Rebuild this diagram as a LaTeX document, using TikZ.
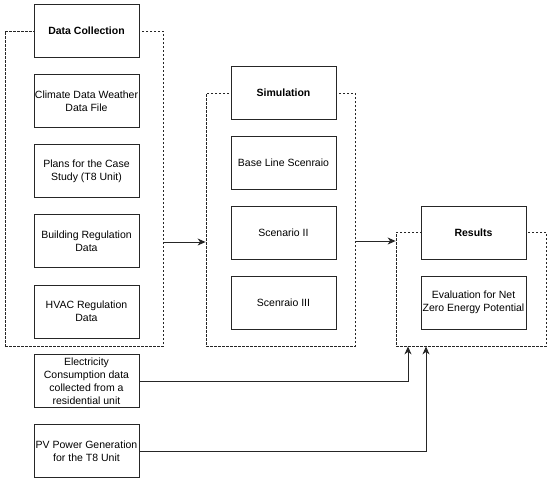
\documentclass[tikz,border=0pt]{standalone}
\usepackage{fontspec}
\setmainfont{Liberation Sans}
\usetikzlibrary{arrows.meta}
\begin{document}
\begin{tikzpicture}[x=1pt,y=-1pt,
    font=\fontsize{10.5}{13}\selectfont,
    box/.style={draw=black!85, line width=0.9pt, fill=white, align=center,
        minimum width=105pt, minimum height=53pt, inner sep=1pt},
    group/.style={draw=black!85, line width=0.8pt, dash pattern=on 2.5pt off 1.5pt,
        inner sep=0pt},
    arr/.style={draw=black!85, line width=0.9pt, -{Stealth[length=8pt,width=7pt,inset=2.5pt]}}]
    \useasboundingbox (0,0) rectangle (550,483);
    % dashed groups
    \node[group, minimum width=158pt, minimum height=315pt] (dcgrp) at (84,188.5) {};
    \node[group, minimum width=149pt, minimum height=253pt] (simgrp) at (280.5,219.5) {};
    \node[group, minimum width=150pt, minimum height=114pt] (resgrp) at (471,289) {};
    % data collection
    \node[box, font=\fontsize{10.5}{13}\selectfont\bfseries] (dc) at (86.5,31) {Data Collection};
    \node[box] (climate) at (86.5,101) {Climate Data Weather\\Data File};
    \node[box] (plans) at (86.5,171) {Plans for the Case\\Study (T8 Unit)};
    \node[box] (bldg) at (86.5,241) {Building Regulation\\Data};
    \node[box] (hvac) at (86.5,311.5) {HVAC Regulation\\Data};
    \node[box] (elec) at (86.5,381) {Electricity\\Consumption data\\collected from a\\residential unit};
    \node[box] (pv) at (86.5,451) {PV Power Generation\\for the T8 Unit};
    % simulation
    \node[box, font=\fontsize{10.5}{13}\selectfont\bfseries] (sim) at (283.5,92.5) {Simulation};
    \node[box] (base) at (283.5,162.5) {Base Line Scenraio};
    \node[box] (sc2) at (283.5,232.5) {Scenario II};
    \node[box] (sc3) at (283.5,302.5) {Scenraio III};
    % results
    \node[box, font=\fontsize{10.5}{13}\selectfont\bfseries] (res) at (473.5,232.5) {Results};
    \node[box] (eval) at (473.5,302.5) {Evaluation for Net\\Zero Energy Potential};
    % connectors
    \coordinate (j1) at (184,242);
    \draw[arr] (dcgrp.east |- j1) -- (simgrp.west |- j1);
    \coordinate (j2) at (375,241);
    \draw[arr] (simgrp.east |- j2) -- (resgrp.west |- j2);
    \draw[arr] (elec.east) -| ([xshift=-63pt]resgrp.south);
    \draw[arr] (pv.east) -| ([xshift=-45pt]resgrp.south);
\end{tikzpicture}
\end{document}
